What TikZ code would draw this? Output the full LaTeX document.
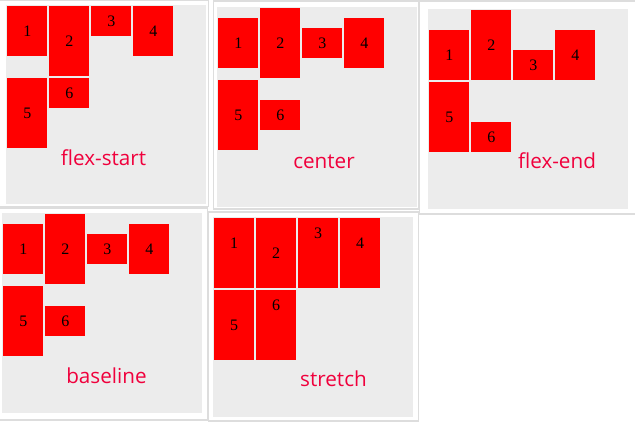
\documentclass[tikz,border=0pt]{standalone}
\usepackage{fontspec}
\setmainfont{Liberation Serif}
\newfontfamily\labfont{Open Sans}
\definecolor{panelgray}{HTML}{ECECEC}
\definecolor{cardline}{HTML}{DDDDDD}
\definecolor{boxred}{HTML}{FF0000}
\definecolor{labred}{RGB}{240,0,60}
\tikzset{
  card/.style={draw=cardline, fill=white, line width=1.2pt},
  panel/.style={fill=panelgray},
  item/.style={fill=boxred, inner sep=0pt, minimum width=30pt, anchor=north west, font=\fontsize{12}{14}\selectfont, text=black},
  num/.style={inner sep=0pt, font=\fontsize{12}{14}\selectfont, text=black},
  lab/.style={anchor=base, inner sep=0pt, text=labred, font=\labfont\fontsize{15.5}{18}\selectfont},
}
\newcommand\itm[5]{\node[item, minimum height=#4*0.75pt] (#1) at (#2,#3) {#5};}
\begin{document}
\begin{tikzpicture}[x=0.75pt,y=-0.75pt]
\useasboundingbox (0,0) rectangle (635,423);
\fill[white] (0,0) rectangle (635,423);
% cards
\draw[card] (-3,0.5) rectangle (208.5,206.5);
\draw[card] (213.5,1) rectangle (419,209);
\draw[card] (419.5,1) rectangle (640,214);
\draw[card] (-3,208) rectangle (207.5,420);
\draw[card] (208.5,212) rectangle (418.5,421);
% panels
\fill[panel] (6,5) rectangle (206,204);
\fill[panel] (217,7) rectangle (417,207);
\fill[panel] (428,9) rectangle (628,209);
\fill[panel] (2,213) rectangle (202,413);
\fill[panel] (213,217) rectangle (413,417);
% flex-start
\itm{a1}{7}{6}{50}{1}
\itm{a2}{49}{6}{70}{2}
\itm{a3}{91}{6}{29.5}{3}
\itm{a4}{133}{6}{50}{4}
\itm{a5}{7}{78}{70}{5}
\itm{a6}{49}{78}{30}{6}
\node[lab] (la) at (103.5,165.5) {flex-start};
% center
\itm{b1}{218}{18}{50}{1}
\itm{b2}{260}{8}{70}{2}
\itm{b3}{302}{28}{30}{3}
\itm{b4}{344}{18}{50}{4}
\itm{b5}{218}{80}{70}{5}
\itm{b6}{260}{100}{30}{6}
\node[lab] (lb) at (324,168.5) {center};
% flex-end
\itm{c1}{429}{30}{50}{1}
\itm{c2}{471}{10}{70}{2}
\itm{c3}{513}{50}{30}{3}
\itm{c4}{555}{30}{50}{4}
\itm{c5}{429}{82}{70}{5}
\itm{c6}{471}{122}{30}{6}
\node[lab] (lc) at (557,168.5) {flex-end};
% baseline
\itm{d1}{3}{224}{50}{1}
\itm{d2}{45}{214}{70}{2}
\itm{d3}{87}{234}{30}{3}
\itm{d4}{129}{224}{50}{4}
\itm{d5}{3}{286}{70}{5}
\itm{d6}{45}{306}{30}{6}
\node[lab] (ld) at (106.5,384) {baseline};
% stretch
\itm{e1}{214}{218}{70}{}
\itm{e2}{256}{218}{70}{}
\itm{e3}{298}{218}{70}{}
\itm{e4}{340}{218}{70}{}
\itm{e5}{214}{290}{70}{}
\itm{e6}{256}{290}{70}{}
\node[num] (n1) at (234,243) {1};
\node[num] (n2) at (276,253) {2};
\node[num] (n3) at (318,233) {3};
\node[num] (n4) at (360,243) {4};
\node[num] (n5) at (234,325) {5};
\node[num] (n6) at (276,305) {6};
\node[lab] (le) at (333.5,386.5) {stretch};
\end{tikzpicture}
\end{document}
